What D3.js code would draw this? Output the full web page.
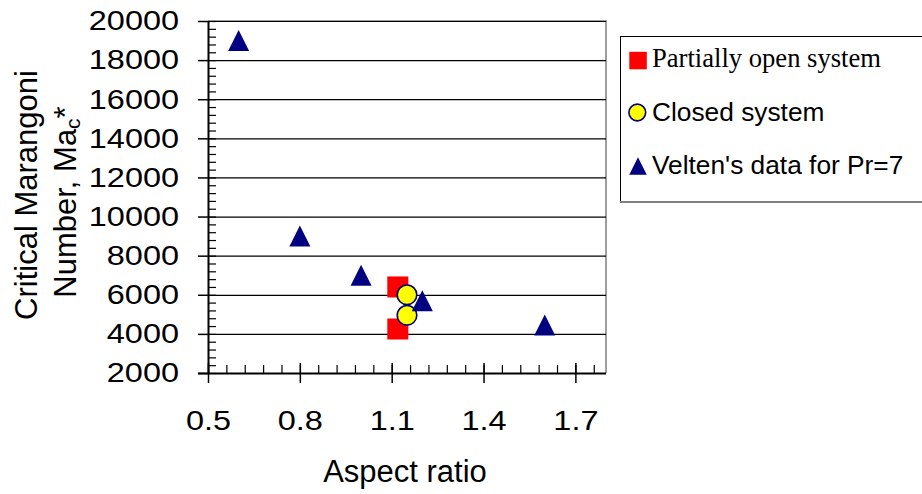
<!DOCTYPE html>
<html>
<head>
<meta charset="utf-8">
<script src="https://cdn.jsdelivr.net/npm/d3@7/dist/d3.min.js"></script>
<style>
  html, body { margin: 0; padding: 0; background: #fff; }
  svg { display: block; }
  .sans { font-family: "Liberation Sans", Arial, sans-serif; }
  .serif { font-family: "Liberation Serif", "Times New Roman", serif; }
</style>
</head>
<body>
<script>
// Critical Marangoni number against aspect ratio
const partialX = [1.12, 1.12];
const partialY = [6400, 4250];
const closedX = [1.15, 1.15];
const closedY = [6000, 4950];
const veltenX = [0.6, 0.8, 1.0, 1.2, 1.6];
const veltenY = [19000, 9000, 7000, 5700, 4450];

const xTicks = [0.5, 0.8, 1.1, 1.4, 1.7];
const yTicks = [2000, 4000, 6000, 8000, 10000, 12000, 14000, 16000, 18000, 20000];
const seriesNames = ["Partially open system", "Closed system", "Velten's data for Pr=7"];

const W = 922, H = 494;
const plot = { left: 208, right: 606, top: 21, bottom: 373 };
const tickFont = 27.5, tickStretch = 1.18;

const svg = d3.select("body").append("svg").attr("width", W).attr("height", H);
svg.append("rect").attr("width", W).attr("height", H).attr("fill", "#fff");

const x = d3.scaleLinear().domain([0.5, 1.8]).range([plot.left, plot.right]);
const y = d3.scaleLinear().domain([2000, 20000]).range([plot.bottom, plot.top]);

const xMinor = d3.range(0, 22).map(i => +(0.5 + i * 0.06).toFixed(2));
const yMinor = d3.range(2000, 20001, 400);

// wide tick labels: stretch each one horizontally about its anchor
function stretchLabels(g) {
  g.selectAll(".tick text").each(function () {
    const t = d3.select(this);
    const x0 = +t.attr("x") || 0;
    t.attr("class", "sans").attr("font-size", tickFont).attr("fill", "#000")
      .attr("x", x0 / tickStretch)
      .attr("transform", `scale(${tickStretch},1)`);
  });
}

// plot frame (top and right edges)
svg.append("path")
  .attr("d", `M${plot.left},${plot.top}H${plot.right}V${plot.bottom}`)
  .attr("fill", "none").attr("stroke", "#808080").attr("stroke-width", 1.5);

// horizontal gridlines
svg.append("g")
  .attr("transform", `translate(${plot.left},0)`)
  .call(d3.axisRight(y).tickValues(yTicks.slice(1)).tickSize(plot.right - plot.left).tickFormat(""))
  .call(g => g.select(".domain").remove())
  .call(g => g.selectAll(".tick line").attr("stroke", "#000").attr("stroke-width", 1.2));

// y axis: minor ticks inside, major ticks outside with labels
svg.append("g")
  .attr("transform", `translate(${plot.left},0)`)
  .call(d3.axisRight(y).tickValues(yMinor).tickSize(8).tickFormat(""))
  .call(g => g.select(".domain").remove())
  .call(g => g.selectAll(".tick line").attr("stroke", "#000").attr("stroke-width", 1.2));

const yAxis = svg.append("g")
  .attr("transform", `translate(${plot.left},0)`)
  .call(d3.axisLeft(y).tickValues(yTicks).tickSize(10).tickPadding(19).tickSizeOuter(0).tickFormat(d3.format("d")));
yAxis.select(".domain").attr("stroke", "#000").attr("stroke-width", 2);
yAxis.selectAll(".tick line").attr("stroke", "#000").attr("stroke-width", 1.5);
yAxis.call(stretchLabels);

// x axis: minor ticks inside, major ticks crossing with labels
svg.append("g")
  .attr("transform", `translate(0,${plot.bottom})`)
  .call(d3.axisTop(x).tickValues(xMinor).tickSize(8).tickFormat(""))
  .call(g => g.select(".domain").remove())
  .call(g => g.selectAll(".tick line").attr("stroke", "#000").attr("stroke-width", 1.2));

svg.append("g")
  .attr("transform", `translate(0,${plot.bottom})`)
  .call(d3.axisTop(x).tickValues(xTicks).tickSize(10).tickFormat(""))
  .call(g => g.select(".domain").remove())
  .call(g => g.selectAll(".tick line").attr("stroke", "#000").attr("stroke-width", 1.5));

const xAxis = svg.append("g")
  .attr("transform", `translate(0,${plot.bottom})`)
  .call(d3.axisBottom(x).tickValues(xTicks).tickSize(10).tickPadding(27).tickSizeOuter(0).tickFormat(d3.format(".1f")));
xAxis.select(".domain").attr("stroke", "#000").attr("stroke-width", 2)
  .attr("d", `M${plot.left - 10},0.5H${plot.right}`);
xAxis.selectAll(".tick line").attr("stroke", "#000").attr("stroke-width", 1.5);
xAxis.call(stretchLabels);

// axis titles
svg.append("text").attr("class", "sans")
  .attr("x", 405).attr("y", 482)
  .attr("text-anchor", "middle").attr("font-size", 31).attr("fill", "#000")
  .text("Aspect ratio");

const yTitle = svg.append("g").attr("class", "sans").attr("fill", "#000").attr("font-size", 31);
yTitle.append("text")
  .attr("transform", "translate(37,195) rotate(-90)")
  .attr("text-anchor", "middle")
  .text("Critical Marangoni");
const yTitle2 = yTitle.append("text")
  .attr("transform", "translate(76,202) rotate(-90)")
  .attr("text-anchor", "middle");
yTitle2.append("tspan").text("Number, Ma");
yTitle2.append("tspan").attr("font-size", 21).attr("dy", 4).text("c");
yTitle2.append("tspan").attr("dy", -4).text("*");

// marker shapes
const triPath = s => `M0,${-s / 2}L${s / 2},${s / 2}L${-s / 2},${s / 2}Z`;
const navy = "#000080";

const zip = (xs, ys) => xs.map((v, i) => [v, ys[i]]);

svg.append("g").selectAll("rect")
  .data(zip(partialX, partialY)).join("rect")
  .attr("x", d => x(d[0]) - 10.5).attr("y", d => y(d[1]) - 10.5)
  .attr("width", 21).attr("height", 21).attr("fill", "#ff0000");

svg.append("g").selectAll("circle")
  .data(zip(closedX, closedY)).join("circle")
  .attr("cx", d => x(d[0])).attr("cy", d => y(d[1])).attr("r", 9.8)
  .attr("fill", "#ffff00").attr("stroke", navy).attr("stroke-width", 1.6);

svg.append("g").selectAll("path")
  .data(zip(veltenX, veltenY)).join("path")
  .attr("transform", d => `translate(${x(d[0])},${y(d[1])})`)
  .attr("d", triPath(21)).attr("fill", navy);

// legend
const lg = svg.append("g");
lg.append("rect").attr("x", 620.5).attr("y", 36.5).attr("width", 320).attr("height", 165)
  .attr("fill", "#fff").attr("stroke", "#000").attr("stroke-width", 1);
lg.append("line").attr("x1", 620).attr("x2", W).attr("y1", 202).attr("y2", 202)
  .attr("stroke", "#808080").attr("stroke-width", 2);

lg.append("rect").attr("x", 629.3).attr("y", 51.8).attr("width", 17.5).attr("height", 17.5).attr("fill", "#ff0000");
lg.append("circle").attr("cx", 637.3).attr("cy", 112.5).attr("r", 8.4)
  .attr("fill", "#ffff00").attr("stroke", navy).attr("stroke-width", 1.6);
lg.append("path").attr("transform", "translate(638,166)").attr("d", triPath(17.5)).attr("fill", navy);

lg.append("text").attr("class", "serif").attr("x", 652).attr("y", 66.7)
  .attr("font-size", 26.6).attr("fill", "#000").text(seriesNames[0]);
lg.append("text").attr("class", "sans").attr("x", 652).attr("y", 121)
  .attr("font-size", 26.3).attr("fill", "#000").text(seriesNames[1]);
lg.append("text").attr("class", "sans").attr("x", 652).attr("y", 174)
  .attr("font-size", 26.3).attr("fill", "#000").text(seriesNames[2]);
</script>
</body>
</html>
